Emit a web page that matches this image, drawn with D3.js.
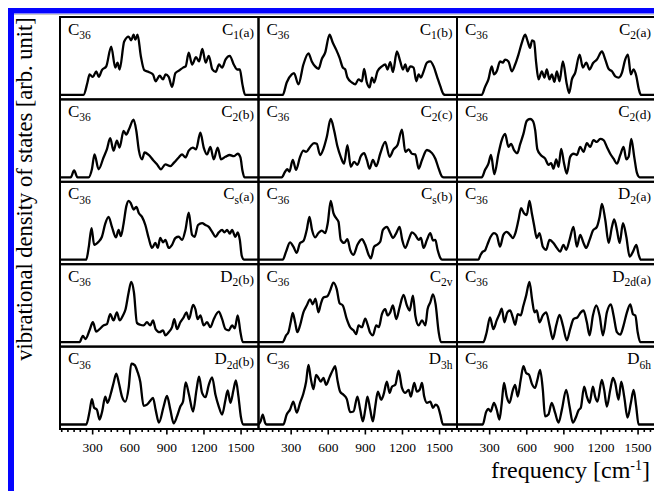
<!DOCTYPE html>
<html lang="en">
<head>
<meta charset="utf-8">
<title>C36 isomers - vibrational density of states</title>
<script src="https://d3js.org/d3.v7.min.js"></script>
<style>
  body { margin: 0; background: #fff; }
  svg { display: block; font-family: "Liberation Serif", "Times New Roman", serif; }
</style>
</head>
<body>
<svg width="654" height="491"></svg>
<script>
// [frequency cm^-1, intensity arb. unit]
const C1a = [[40,0],[230,0],[262,20],[279,33],[306,29],[333,38],[354,29],[379,40],[414,46],[454,78],[487,44],[505,52],[522,41],[559,86],[595,94],[616,88],[635,97],[649,89],[667,97],[694,62],[721,40],[757,37],[792,33],[813,22],[846,31],[873,25],[894,33],[919,29],[946,13],[973,35],[1008,40],[1035,44],[1056,46],[1081,68],[1108,49],[1140,61],[1164,54],[1191,74],[1218,52],[1243,63],[1272,41],[1299,37],[1326,49],[1351,44],[1378,57],[1413,63],[1445,49],[1472,41],[1494,41],[1515,17],[1537,0],[1645,0]];
const C1b = [[40,0],[236,0],[268,20],[309,33],[327,35],[363,17],[403,49],[444,67],[471,54],[498,46],[525,42],[552,58],[579,68],[614,97],[641,84],[668,73],[695,60],[722,44],[741,41],[759,28],[795,20],[822,17],[849,25],[876,22],[894,42],[916,20],[938,12],[957,28],[975,20],[1002,38],[1038,46],[1065,49],[1083,41],[1105,53],[1127,37],[1159,70],[1186,54],[1208,41],[1227,49],[1245,38],[1267,46],[1294,44],[1316,22],[1335,33],[1353,28],[1375,38],[1402,52],[1429,54],[1456,46],[1483,30],[1510,14],[1537,1],[1550,0],[1645,0]];
const C2a = [[40,0],[240,0],[267,13],[294,25],[321,46],[339,33],[361,38],[388,54],[410,52],[429,57],[456,54],[483,38],[510,49],[537,65],[564,84],[591,97],[612,86],[631,76],[647,88],[663,86],[680,52],[699,25],[726,38],[747,28],[766,41],[788,25],[807,33],[828,21],[847,38],[869,22],[896,54],[928,17],[947,3],[969,25],[996,36],[1031,65],[1058,44],[1085,52],[1112,41],[1139,51],[1171,57],[1212,70],[1239,57],[1266,42],[1293,38],[1320,30],[1347,28],[1374,36],[1400,57],[1422,65],[1446,33],[1468,41],[1490,30],[1509,10],[1527,0],[1645,0]];
const C2b = [[40,0],[127,0],[154,11],[181,0],[271,0],[298,13],[319,37],[352,13],[392,32],[419,45],[446,63],[473,43],[500,59],[522,48],[554,75],[576,69],[597,77],[635,93],[657,75],[678,43],[703,29],[724,40],[757,36],[792,28],[824,21],[856,13],[892,21],[932,18],[964,24],[1000,32],[1027,37],[1054,32],[1081,43],[1113,48],[1140,45],[1175,72],[1202,48],[1229,37],[1256,49],[1283,29],[1315,48],[1342,29],[1377,33],[1413,36],[1445,34],[1477,38],[1499,32],[1515,11],[1531,0],[1645,0]];
const C2c = [[40,0],[228,0],[255,9],[273,13],[290,9],[317,28],[344,12],[376,33],[403,43],[425,41],[457,49],[489,55],[511,54],[538,36],[565,46],[592,65],[624,94],[651,76],[678,50],[705,33],[732,22],[759,52],[786,17],[813,25],[840,20],[867,34],[894,39],[916,28],[938,14],[965,28],[992,18],[1024,38],[1065,57],[1100,33],[1132,45],[1164,52],[1200,77],[1227,41],[1254,45],[1281,38],[1308,37],[1335,14],[1362,28],[1402,44],[1443,39],[1470,30],[1497,14],[1524,1],[1537,0],[1645,0]];
const C2d = [[40,0],[240,0],[267,12],[294,22],[315,36],[342,5],[375,38],[402,60],[429,70],[456,49],[477,54],[501,44],[528,39],[550,53],[577,70],[604,91],[631,94],[653,91],[672,76],[690,45],[717,36],[753,30],[780,20],[801,23],[820,14],[842,29],[861,17],[882,46],[906,22],[928,6],[955,33],[982,38],[1009,36],[1036,49],[1063,41],[1090,55],[1117,49],[1144,60],[1171,57],[1198,62],[1225,60],[1252,49],[1279,38],[1306,30],[1333,22],[1360,36],[1387,49],[1409,29],[1428,33],[1449,62],[1473,33],[1495,7],[1517,0],[1645,0]];
const Csa = [[40,0],[252,0],[273,21],[295,51],[316,24],[352,29],[379,37],[406,58],[433,69],[460,53],[492,36],[514,48],[532,38],[554,58],[576,86],[595,95],[613,91],[635,81],[657,85],[678,75],[703,69],[730,56],[757,35],[784,19],[811,27],[830,19],[851,35],[873,28],[892,32],[919,19],[946,24],[973,35],[1000,37],[1027,32],[1054,48],[1081,76],[1108,40],[1129,37],[1156,56],[1189,59],[1216,56],[1243,53],[1270,45],[1297,37],[1324,44],[1351,48],[1369,44],[1391,48],[1413,42],[1431,48],[1458,37],[1477,44],[1494,32],[1510,6],[1529,0],[1645,0]];
const Csb = [[40,0],[236,0],[263,13],[295,28],[322,21],[349,11],[376,27],[403,30],[430,48],[452,69],[473,48],[498,36],[525,43],[552,47],[579,43],[600,59],[624,95],[646,75],[668,67],[687,61],[705,32],[732,27],[759,33],[781,16],[808,8],[840,24],[876,33],[903,24],[930,8],[948,2],[975,21],[997,24],[1024,29],[1046,48],[1078,53],[1105,43],[1127,35],[1154,43],[1181,53],[1202,32],[1227,19],[1254,32],[1281,44],[1308,40],[1335,32],[1353,35],[1375,19],[1402,32],[1429,43],[1451,31],[1470,32],[1488,16],[1510,3],[1524,0],[1645,0]];
const D2a = [[40,0],[213,0],[231,8],[248,13],[267,15],[285,24],[312,37],[339,43],[361,40],[388,21],[415,40],[442,45],[469,40],[491,35],[512,43],[537,64],[558,83],[582,75],[604,72],[626,95],[645,75],[663,56],[685,35],[707,43],[734,21],[761,16],[788,32],[820,27],[847,19],[874,13],[901,24],[923,16],[950,32],[982,53],[1009,21],[1036,40],[1063,27],[1085,19],[1112,32],[1139,47],[1171,53],[1193,69],[1212,90],[1239,64],[1266,27],[1293,53],[1311,65],[1333,48],[1355,27],[1382,59],[1409,37],[1436,5],[1463,13],[1490,24],[1509,8],[1527,0],[1645,0]];
const D2b = [[40,0],[198,0],[225,10],[246,5],[279,19],[306,32],[333,17],[360,21],[392,27],[419,29],[446,45],[473,35],[500,48],[522,35],[549,43],[570,53],[595,80],[616,97],[638,80],[662,31],[689,28],[716,27],[743,32],[770,27],[792,35],[813,21],[846,16],[873,19],[892,11],[919,16],[946,24],[964,37],[986,21],[1013,32],[1040,40],[1062,48],[1083,37],[1116,60],[1135,53],[1153,37],[1175,43],[1202,27],[1229,32],[1256,24],[1283,37],[1324,49],[1351,37],[1378,21],[1405,19],[1432,27],[1453,22],[1477,43],[1499,16],[1518,0],[1645,0]];
const C2v = [[40,0],[236,0],[263,11],[282,16],[300,32],[317,47],[336,32],[354,16],[376,27],[403,48],[430,59],[457,69],[479,61],[500,70],[525,48],[543,61],[565,72],[597,74],[619,83],[646,96],[673,85],[695,63],[722,59],[754,37],[781,24],[808,19],[830,13],[849,27],[876,24],[903,38],[921,29],[943,15],[965,11],[992,27],[1013,24],[1038,45],[1065,53],[1083,43],[1105,48],[1127,59],[1154,37],[1181,56],[1213,76],[1240,59],[1262,51],[1289,75],[1308,43],[1335,27],[1362,35],[1389,27],[1407,53],[1429,64],[1451,77],[1472,61],[1497,16],[1515,0],[1645,0]];
const D2da = [[40,0],[253,0],[280,16],[307,40],[334,21],[361,35],[383,45],[402,54],[423,32],[447,48],[469,51],[491,40],[510,28],[531,45],[555,43],[577,59],[599,75],[626,97],[647,69],[666,48],[685,51],[707,32],[734,43],[761,48],[788,27],[815,5],[842,27],[869,44],[896,27],[928,3],[955,21],[982,37],[1014,40],[1041,48],[1063,51],[1090,32],[1112,11],[1139,43],[1166,59],[1193,43],[1220,11],[1252,48],[1284,61],[1306,43],[1333,16],[1360,12],[1387,27],[1414,48],[1441,61],[1463,45],[1482,43],[1501,16],[1522,0],[1645,0]];
const D2db = [[40,0],[252,0],[279,21],[298,41],[316,27],[338,24],[360,8],[381,21],[406,45],[424,35],[451,50],[473,67],[495,82],[516,67],[541,45],[568,37],[595,59],[616,98],[643,96],[667,85],[689,69],[716,30],[743,32],[765,37],[792,43],[813,24],[840,3],[878,29],[905,46],[932,24],[959,2],[986,13],[1013,29],[1035,37],[1056,68],[1083,48],[1116,21],[1143,55],[1164,77],[1189,51],[1216,44],[1243,64],[1270,76],[1297,48],[1324,29],[1351,16],[1378,40],[1396,55],[1418,35],[1443,56],[1462,71],[1483,45],[1502,13],[1524,0],[1645,0]];
const D3h = [[40,0],[57,5],[74,16],[93,3],[106,0],[241,0],[268,16],[295,24],[322,37],[349,19],[376,35],[403,50],[425,69],[444,96],[462,75],[484,57],[506,80],[525,75],[543,69],[565,75],[587,64],[614,76],[641,88],[660,94],[678,72],[700,53],[727,48],[754,41],[781,20],[808,21],[840,45],[862,24],[884,5],[903,24],[921,45],[943,24],[965,5],[984,29],[1005,53],[1032,40],[1051,48],[1078,69],[1100,51],[1119,61],[1146,64],[1173,87],[1200,59],[1227,51],[1254,56],[1272,45],[1299,67],[1321,53],[1343,56],[1362,67],[1380,45],[1402,35],[1429,37],[1451,27],[1472,32],[1491,29],[1510,16],[1532,0],[1645,0]];
const D6h = [[40,0],[248,0],[275,20],[294,25],[312,21],[339,35],[361,24],[383,8],[402,35],[420,67],[442,45],[464,35],[491,55],[510,64],[531,45],[555,72],[577,94],[599,83],[623,80],[645,66],[671,59],[690,72],[712,88],[734,56],[752,13],[779,16],[806,35],[833,19],[861,3],[888,24],[923,56],[950,29],[977,3],[1004,13],[1023,23],[1041,27],[1068,61],[1090,45],[1112,35],[1139,61],[1157,45],[1176,37],[1211,72],[1230,56],[1252,29],[1279,56],[1301,75],[1319,67],[1346,40],[1368,69],[1392,45],[1419,11],[1446,35],[1468,56],[1489,29],[1508,0],[1645,0]];

// panels, row by row
const series  = [C1a, C1b, C2a, C2b, C2c, C2d, Csa, Csb, D2a, D2b, C2v, D2da, D2db, D3h, D6h];
const symbols = ['C', 'C', 'C', 'C', 'C', 'C', 'C', 'C', 'D', 'D', 'C', 'D', 'D', 'D', 'D'];
const subs    = ['1', '1', '2', '2', '2', '2', 's', 's', '2', '2', '2v', '2d', '2d', '3h', '6h'];
const tags    = ['(a)', '(b)', '(a)', '(b)', '(c)', '(d)', '(a)', '(b)', '(a)', '(b)', '', '(a)', '(b)', '', ''];
const majorTicks = [300, 600, 900, 1200, 1500];
const minorTicks = [50, 100, 150, 200, 250, 350, 400, 450, 500, 550, 650, 700, 750, 800, 850, 950, 1000, 1050, 1100, 1150, 1250, 1300, 1350, 1400, 1450, 1550, 1600];

const svg = d3.select('svg');
const padLeft = 60, padTop = 17, colW = 198.5, rowH = 82.4;

var x = d3.scaleLinear().domain([40, 1645]).range([0, colW]);
var y = d3.scaleLinear().domain([0, 100]).range([rowH - 4.5, rowH - 66.5]);
var line = d3.line()
  .x(function(d) { return x(d[0]); })
  .y(function(d) { return y(d[1]); })
  .curve(d3.curveMonotoneX);

// blue frame
svg.append('rect').attr('x', 8).attr('y', 8).attr('width', 646).attr('height', 5.5).attr('fill', '#0505ff');
svg.append('rect').attr('x', 8).attr('y', 8).attr('width', 6).attr('height', 483).attr('fill', '#0505ff');
svg.append('line').attr('x1', 14).attr('x2', 654).attr('y1', 14.5).attr('y2', 14.5)
  .attr('stroke', '#c8c8c8').attr('stroke-width', 1);

series.forEach(function(s, i) {
  var col = i % 3, row = Math.floor(i / 3);
  var g = svg.append('g')
    .attr('transform', 'translate(' + (padLeft + col * colW) + ',' + (padTop + row * rowH) + ')');

  g.append('path')
    .datum(s)
    .attr('d', line)
    .attr('fill', 'none')
    .attr('stroke', '#000')
    .attr('stroke-width', 2.3)
    .attr('stroke-linejoin', 'round');

  g.append('rect')
    .attr('width', colW).attr('height', rowH)
    .attr('fill', 'none').attr('stroke', '#000').attr('stroke-width', 2);

  // C36 on the left
  var t = g.append('text').attr('x', 8).attr('y', 17.5).attr('font-size', 17);
  t.append('tspan').text('C');
  t.append('tspan').attr('font-size', 11.5).attr('dy', 4.5).text('36');

  // isomer symmetry on the right
  var r = g.append('text').attr('x', colW - 4.5).attr('y', 17.5)
    .attr('text-anchor', 'end').attr('font-size', 17);
  r.append('tspan').text(symbols[i]);
  r.append('tspan').attr('font-size', 11.5).attr('dy', 4.5).text(subs[i]);
  if (tags[i]) r.append('tspan').attr('font-size', 13.5).attr('dy', -2.5).text(tags[i]);
});

// frequency axes under each column
for (var c = 0; c < 3; c++) {
  var ty = padTop + 5 * rowH;
  var minor = svg.append('g')
    .attr('transform', 'translate(' + (padLeft + c * colW) + ',' + ty + ')')
    .call(d3.axisBottom(x).tickValues(minorTicks).tickSize(3).tickFormat(''));
  var major = svg.append('g')
    .attr('transform', 'translate(' + (padLeft + c * colW) + ',' + ty + ')')
    .call(d3.axisBottom(x).tickValues(majorTicks).tickSize(5.5).tickPadding(8).tickFormat(d3.format('d')));
  [minor, major].forEach(function(a) {
    a.select('.domain').remove();
    a.selectAll('line').attr('stroke', '#000').attr('stroke-width', 1.6);
  });
  major.selectAll('text')
    .attr('font-family', '"Liberation Serif", "Times New Roman", serif')
    .attr('font-size', 13.5).attr('fill', '#000');
}

// axis titles
svg.append('text')
  .attr('transform', 'rotate(-90)')
  .attr('x', -189).attr('y', 32)
  .attr('text-anchor', 'middle')
  .attr('font-size', 22.5)
  .text('vibrational density of states [arb. unit]');

var xl = svg.append('text').attr('x', 650).attr('y', 478)
  .attr('text-anchor', 'end').attr('font-size', 24);
xl.append('tspan').text('frequency [cm');
xl.append('tspan').attr('font-size', 14).attr('dy', -8).text('-1');
xl.append('tspan').attr('dy', 8).text(']');
</script>
</body>
</html>
